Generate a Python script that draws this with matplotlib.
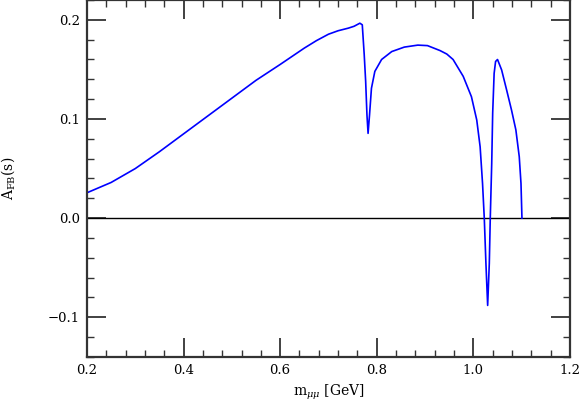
import matplotlib
matplotlib.use('Agg')
import matplotlib.pyplot as plt
from matplotlib.ticker import MultipleLocator, FuncFormatter

# A_FB(s)
m_mumu = [0.200, 0.250, 0.300, 0.350, 0.400, 0.450, 0.500, 0.550, 0.600, 0.650,
          0.675, 0.700, 0.720, 0.741, 0.753, 0.765, 0.770, 0.774, 0.777, 0.7797,
          0.782, 0.785, 0.789, 0.796, 0.810, 0.831, 0.857, 0.885, 0.905, 0.931,
          0.945, 0.958, 0.979, 0.996, 1.007, 1.014, 1.019, 1.0226, 1.026, 1.0296,
          1.033, 1.035, 1.038, 1.040, 1.043, 1.046, 1.050, 1.0585, 1.069, 1.079,
          1.088, 1.095, 1.0986, 1.1006]
a_fb = [0.0256, 0.036, 0.050, 0.067, 0.085, 0.103, 0.121, 0.139, 0.155, 0.1715,
        0.179, 0.1855, 0.189, 0.1916, 0.1935, 0.1966, 0.195, 0.165, 0.138, 0.104,
        0.0855, 0.104, 0.131, 0.148, 0.160, 0.168, 0.1725, 0.1745, 0.1740, 0.169,
        0.1655, 0.160, 0.143, 0.1225, 0.099, 0.072, 0.035, 0.0, -0.0456, -0.088,
        -0.0456, 0.0, 0.055, 0.106, 0.146, 0.158, 0.160, 0.1495, 0.129, 0.109,
        0.089, 0.062, 0.035, 0.0]

plt.rcParams['font.family'] = ['DejaVu Serif']
plt.rcParams['mathtext.fontset'] = 'dejavuserif'

fig = plt.figure(figsize=(5.81, 4.07), dpi=100)
ax = fig.add_axes([0.1497, 0.1229, 0.8313, 0.8771])

ax.axhline(0.0, color='black', linewidth=1.0)
ax.plot(m_mumu, a_fb, color='#0000ff', linewidth=1.2)

ax.set_xlim(0.2, 1.2)
ax.set_ylim(-0.14, 0.22)
ax.xaxis.set_major_locator(MultipleLocator(0.2))
ax.xaxis.set_minor_locator(MultipleLocator(0.04))
ax.yaxis.set_major_locator(MultipleLocator(0.1))
ax.yaxis.set_minor_locator(MultipleLocator(0.02))
fmt = FuncFormatter(lambda v, pos: ('%.1f' % v).replace('-', '\u2212'))
ax.xaxis.set_major_formatter(fmt)
ax.yaxis.set_major_formatter(fmt)

ax.tick_params(axis='both', which='both', direction='in', top=True, right=True,
               color='#333333', labelsize=9.5)
ax.tick_params(axis='both', which='major', length=14, width=1.3, pad=5)
ax.tick_params(axis='both', which='minor', length=5, width=1.0)
for s in ax.spines.values():
    s.set_linewidth(1.6)
    s.set_color('#333333')

ax.set_xlabel(r'm$_{\mu\mu}$ [GeV]', fontsize=10)
ax.set_ylabel(r'A$_{\rm FB}$(s)', fontsize=10, labelpad=22)

fig.savefig('out.png', dpi=100)
